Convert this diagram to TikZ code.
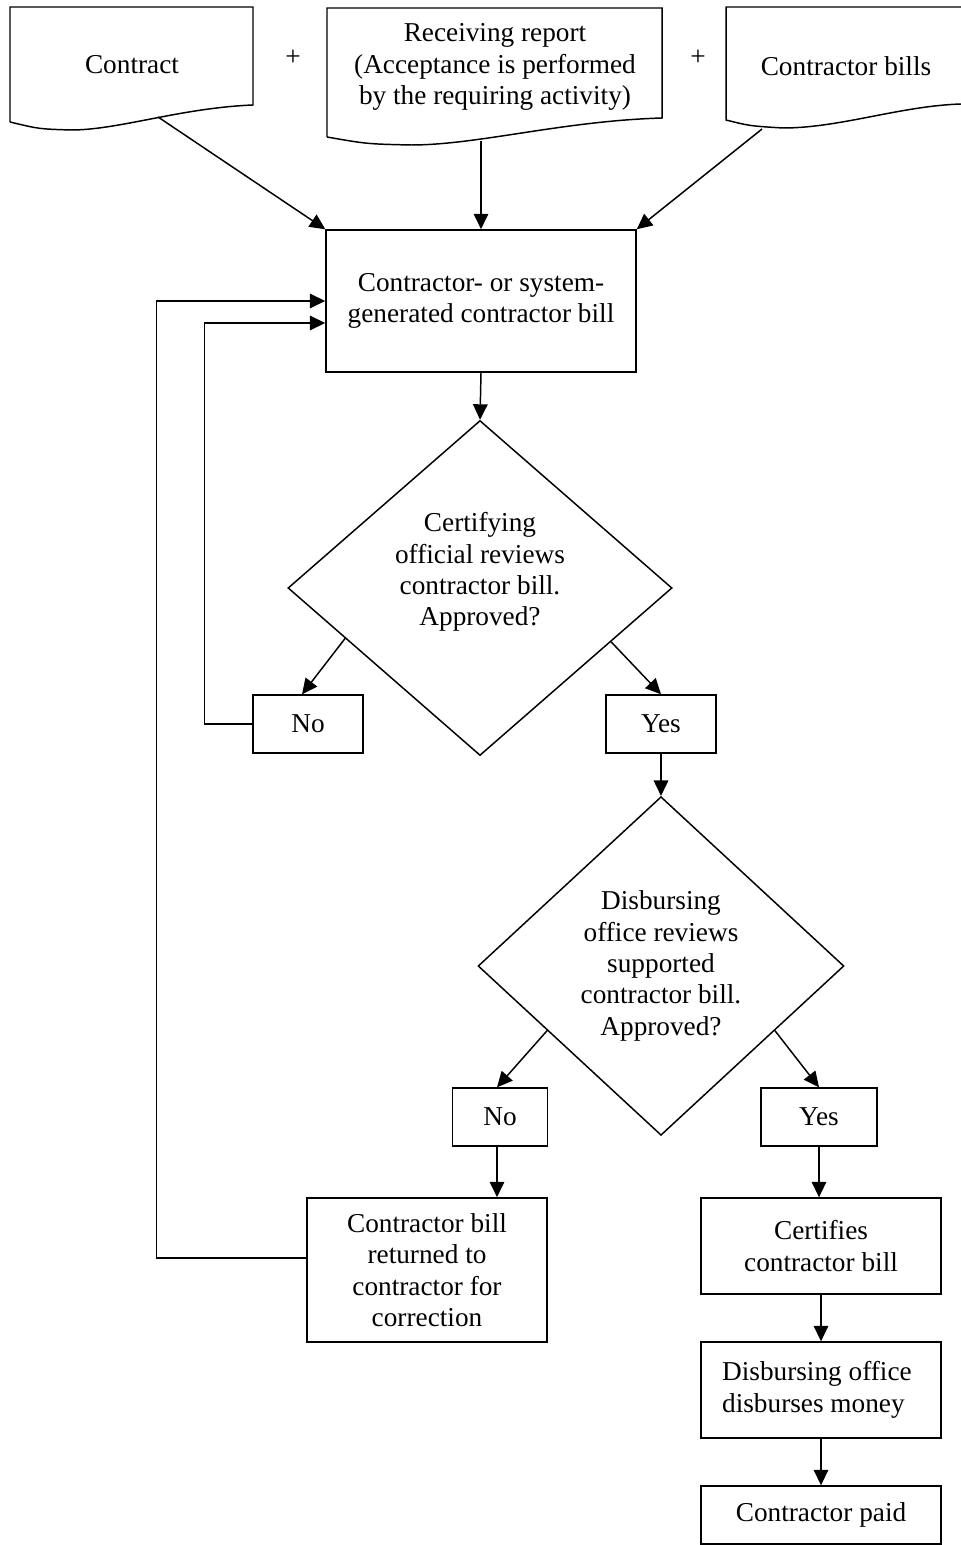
\documentclass[tikz,border=0pt]{standalone}
\usepackage{fontspec}
\setmainfont{Liberation Serif}
\usetikzlibrary{shapes.geometric,arrows.meta,calc}

\begin{document}
\begin{tikzpicture}[x=0.44pt,y=-0.44pt,line width=0.65pt,
  font=\fontsize{12}{13.8}\selectfont,
  arr/.style={-{Triangle[length=6.8pt,width=6.4pt]}},
  stepbox/.style={draw,rectangle,align=center,inner sep=2pt},
  decide/.style={draw,diamond,align=center,inner sep=0pt},
  txt/.style={align=center,inner sep=0pt}]
\useasboundingbox (0,0) rectangle (961,1545);
% source documents
\draw (10,122) -- (10,7) -- (253,7) -- (253,105) .. controls (180,108) and (119,130) .. (71,130) .. controls (39,129) .. (10,122);
\draw (327,137) -- (327,8) -- (662,8) -- (662,118) .. controls (562,121) and (478,145) .. (411,145) .. controls (367,144) .. (327,137);
\draw (975,104) -- (961,104) .. controls (900,106) and (840,128) .. (783,128) .. controls (750,126) .. (726,120) -- (726,7) -- (975,7);
\node[txt] (contract) at (132,65) {Contract};
\node[txt] (report) at (495,67) {Receiving report\\(Acceptance is performed\\by the requiring activity)};
\node[txt] (bills) at (846,66) {Contractor bills};
\node[txt] (plusa) at (293,58) {+};
\node[txt] (plusb) at (698,58) {+};
\coordinate (contractout) at (158,117);
\coordinate (reportout) at (481,141);
\coordinate (billsout) at (762,129);
% steps
\node[stepbox,minimum width=136.4pt,minimum height=62.5pt] (bill) at (481,301) {Contractor- or system-\\generated contractor bill};
\node[decide,minimum width=169pt,minimum height=147.4pt] (certify) at (480,588) {};
\node[txt] (certifytext) at (480,572) {Certifying\\official reviews\\contractor bill.\\Approved?};
\node[stepbox,minimum width=48.4pt,minimum height=25.5pt] (noa) at (308,724) {No};
\node[stepbox,minimum width=48.4pt,minimum height=25.5pt] (yesa) at (661,724) {Yes};
\node[decide,minimum width=161pt,minimum height=149pt] (disburse) at (661,966) {Disbursing\\office reviews\\supported\\contractor bill.\\Approved?};
\node[stepbox,minimum width=41.8pt,minimum height=25.5pt] (nob) at (500,1117) {No};
\node[stepbox,minimum width=51pt,minimum height=25.5pt] (yesb) at (819,1117) {Yes};
\node[stepbox,minimum width=105.6pt,minimum height=63.4pt] (returned) at (427,1270) {Contractor bill\\returned to\\contractor for\\correction};
\node[stepbox,minimum width=105.6pt,minimum height=42.2pt] (certifies) at (821,1246) {Certifies\\contractor bill};
\node[stepbox,minimum height=42.2pt,text width=87pt,inner xsep=9.3pt,align=flush left] (pays) at (821,1390) {Disbursing office\\disburses money};
\node[stepbox,minimum width=105.6pt,minimum height=25.5pt] (paid) at (821,1515) {Contractor paid};
% connectors
\draw[arr] (contractout) -- (bill.north west);
\draw[arr] (reportout) -- (reportout |- bill.north);
\draw[arr] (billsout) -- (bill.north east);
\draw[arr] (bill.south) -- (certify.north);
\draw[arr] ($(certify.west)!0.3!(certify.south)$) -- ($(noa.north)+(-6,0)$);
\draw[arr] ($(certify.east)!0.32!(certify.south)$) -- (yesa.north);
\draw[arr] (yesa.south) -- (disburse.north);
\draw[arr] ($(disburse.west)!0.38!(disburse.south)$) -- ($(nob.north)+(-3,0)$);
\draw[arr] ($(disburse.east)!0.38!(disburse.south)$) -- (yesb.north);
\draw[arr] ($(nob.south)+(-3,0)$) -- ($(nob.south |- returned.north)+(-3,0)$);
\draw[arr] (yesb.south) -- (yesb.south |- certifies.north);
\draw[arr] (certifies) -- (pays);
\draw[arr] (pays) -- (paid);
% loops back
\draw[arr] (noa.west) -- ++(-48,0) |- ($(bill.west)+(0,22)$);
\draw[arr] ($(returned.west)+(0,-12)$) -- ++(-150,0) |- (bill.west);
\end{tikzpicture}
\end{document}
